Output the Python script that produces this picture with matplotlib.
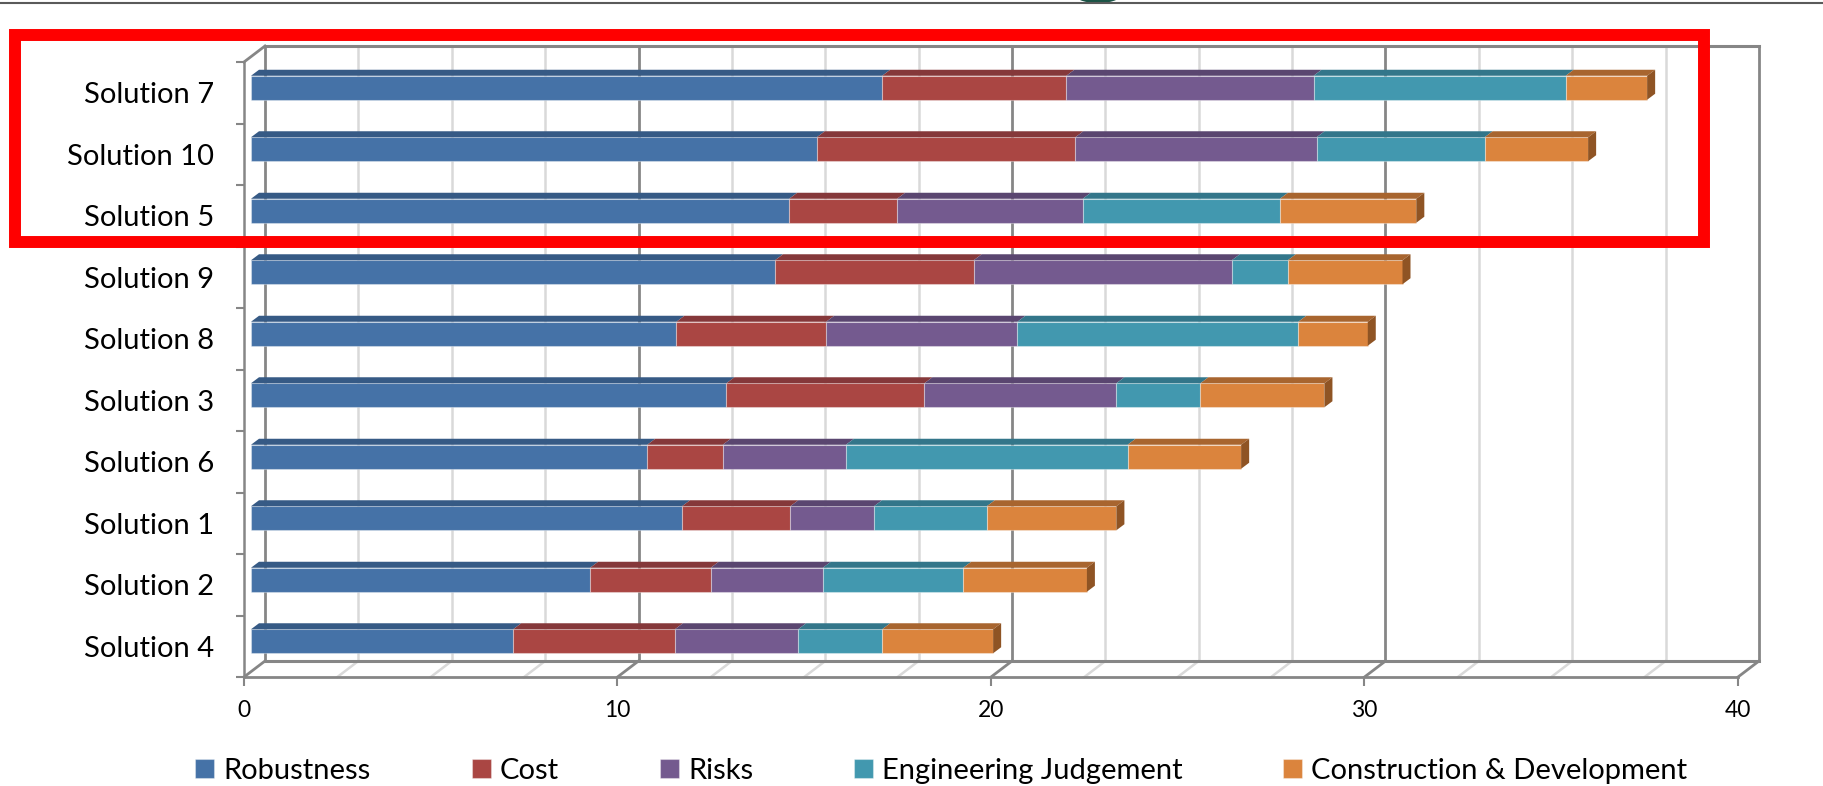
import numpy as np
import matplotlib
matplotlib.use('Agg')
import matplotlib.pyplot as plt
from matplotlib.patches import Polygon, Rectangle, Ellipse
from matplotlib.lines import Line2D
from matplotlib.transforms import ScaledTranslation, IdentityTransform

# data, top row first
names = ['Solution 7', 'Solution 10', 'Solution 5', 'Solution 9', 'Solution 8',
         'Solution 3', 'Solution 6', 'Solution 1', 'Solution 2', 'Solution 4']
robustness = [16.90, 15.15, 14.41, 14.03, 11.39, 12.73, 10.61, 11.54, 9.08, 7.02]
cost = [4.93, 6.92, 2.89, 5.32, 4.01, 5.30, 2.02, 2.90, 3.23, 4.33]
risks = [6.62, 6.46, 4.97, 6.91, 5.12, 5.14, 3.30, 2.24, 3.00, 3.30]
eng_judgement = [6.75, 4.50, 5.28, 1.50, 7.52, 2.25, 7.54, 3.02, 3.76, 2.25]
construction = [2.18, 2.77, 3.65, 3.07, 1.86, 3.32, 3.04, 3.47, 3.31, 2.97]

series = ['Robustness', 'Cost', 'Risks', 'Engineering Judgement', 'Construction & Development']
values = [robustness, cost, risks, eng_judgement, construction]
x_ticks = [0, 10, 20, 30, 40]

front_cols = ['#4572A7', '#AA4643', '#745A8F', '#4298AF', '#DB843D']
top_cols = ['#365A85', '#85383A', '#5A4670', '#33768A', '#A8652F']
side_col = '#8F5424'
dark = '#868686'
light = '#D9D9D9'

plt.rcParams['font.family'] = ['Lato', 'DejaVu Sans']

W, H = 1824, 786
fig = plt.figure(figsize=(W / 100, H / 100), dpi=100)

# front plane of the 3d box (pixels from top left)
fx0, fx1, fy0, fy1 = 244, 1738, 62, 677
ax = fig.add_axes([fx0 / W, 1 - fy1 / H, (fx1 - fx0) / W, (fy1 - fy0) / H])
ax.set_autoscale_on(False)
n = len(names)
ax.set_xlim(0, 40)
ax.set_ylim(n - 0.5, -0.5)
ax.set_facecolor('none')
ax.spines['top'].set_visible(False)
ax.spines['right'].set_visible(False)
ax.spines['left'].set_color(dark)
ax.spines['left'].set_linewidth(1.8)
ax.spines['bottom'].set_color(dark)
ax.spines['bottom'].set_linewidth(2)

# depth offsets in pixels
back_dx, back_dy = 21, 16
bar_dx, bar_dy = 7, 5
top_dx, top_dy = 8, 6
bh = 0.39

px = IdentityTransform()
back_tr = ax.transData + ScaledTranslation(back_dx / 100, back_dy / 100, fig.dpi_scale_trans)
bar_tr = ax.transData + ScaledTranslation(bar_dx / 100, bar_dy / 100, fig.dpi_scale_trans)

# back wall grid
grid_vals = np.arange(0, 40.01, 2.5)
for v in grid_vals:
    major = (v % 10 == 0)
    col = dark if major else light
    lw = 2.0 if major else 1.8
    ax.plot([v, v], [n - 0.5, -0.5], color=col, lw=lw, transform=back_tr, zorder=1, clip_on=False)
    # floor lines from front to back
    p = ax.transData.transform((v, n - 0.5))
    ax.add_line(Line2D([p[0], p[0] + back_dx], [p[1], p[1] + back_dy], color=col, lw=lw,
                       transform=px, zorder=1, clip_on=False))
ax.plot([0, 40], [-0.5, -0.5], color=dark, lw=2.2, transform=back_tr, zorder=1, clip_on=False)
ax.plot([0, 40], [n - 0.5, n - 0.5], color=dark, lw=2.2, transform=back_tr, zorder=1, clip_on=False)
# left wall top edge
p = ax.transData.transform((0, -0.5))
ax.add_line(Line2D([p[0], p[0] + back_dx], [p[1], p[1] + back_dy], color=dark, lw=2,
                   transform=px, zorder=1, clip_on=False))

# stacked bars
ypos = np.arange(n)
lefts = np.zeros(n)
for j, (s, vals) in enumerate(zip(series, values)):
    vals = np.array(vals)
    ax.barh(ypos, vals, left=lefts, height=bh, color=front_cols[j], label=s,
            edgecolor=(1, 1, 1, 0.35), linewidth=0.8, transform=bar_tr, zorder=3, clip_on=False)
    for i in range(n):
        a, b = lefts[i], lefts[i] + vals[i]
        pl = bar_tr.transform((a, ypos[i] - bh / 2))
        pr = bar_tr.transform((b, ypos[i] - bh / 2))
        top = [pl, pr, pr + [top_dx, top_dy], pl + [top_dx, top_dy]]
        ax.add_patch(Polygon(top, closed=True, fc=top_cols[j], ec='none',
                             transform=px, zorder=3, clip_on=False))
        if j == len(series) - 1:
            pb = bar_tr.transform((b, ypos[i] + bh / 2))
            side = [pr, pb, pb + [top_dx, top_dy], pr + [top_dx, top_dy]]
            ax.add_patch(Polygon(side, closed=True, fc=side_col, ec='none',
                                 transform=px, zorder=3, clip_on=False))
    lefts = lefts + vals

# axes ticks
ax.set_xticks(x_ticks)
ax.set_xticklabels([str(t) for t in x_ticks])
ax.tick_params(axis='x', length=6.5, width=1.5, color=dark, pad=10, labelsize=16.5)
ax.set_yticks(ypos)
ax.set_yticklabels(names)
ax.tick_params(axis='y', which='major', length=0, pad=21.6, labelsize=21)
ax.set_yticks(np.arange(-0.5, n), minor=True)
ax.tick_params(axis='y', which='minor', length=6, width=1.5, color=dark)

# legend
handles, labels = ax.get_legend_handles_labels()
fig.legend(handles, labels, loc='center', bbox_to_anchor=(941.5 / W, 1 - 771 / H), ncol=5,
           frameon=False, fontsize=21, handlelength=0.65, handleheight=0.65,
           handletextpad=0.32, columnspacing=3.45, borderaxespad=0)

# page decorations
fig.add_artist(Line2D([0, 1], [1 - 2.7 / H] * 2, transform=fig.transFigure, color='#5a5a5a', lw=1.5))
fig.add_artist(Ellipse((1098 / W, 1 + 4 / H), 44 / W, 14 / H, transform=fig.transFigure,
                       fc='#1b5446', ec='none'))
fig.add_artist(Rectangle((15 / W, 1 - 242 / H), (1704 - 15) / W, (242 - 35) / H,
                         transform=fig.transFigure, fill=False, ec='#ff0000', lw=8.6,
                         joinstyle='miter', zorder=10))

fig.savefig('out.png', dpi=100)
